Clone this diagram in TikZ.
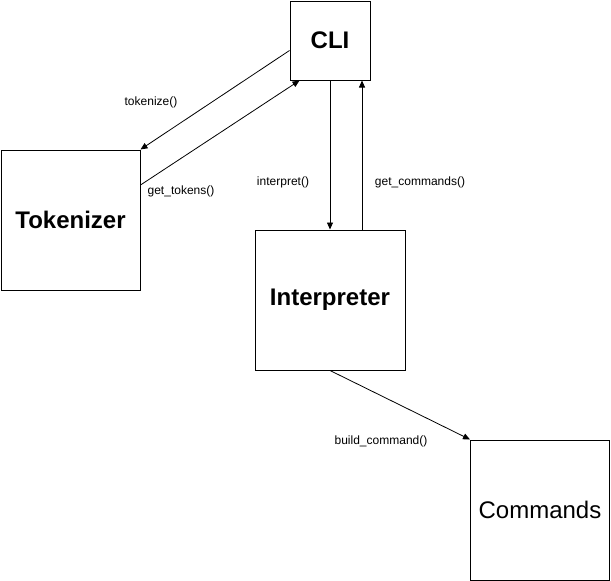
\documentclass[tikz,border=0pt]{standalone}
\usepackage{fontspec}
\setmainfont{Liberation Sans}
\usetikzlibrary{arrows.meta,calc}

\begin{document}
\begin{tikzpicture}[x=1pt,y=-1pt,
    box/.style={draw,line width=1pt,inner sep=0pt,font=\fontsize{24}{27}\selectfont},
    call/.style={-{Triangle[length=7pt,width=6pt]},line width=0.8pt},
    lbl/.style={font=\fontsize{12}{14}\selectfont}]
    \useasboundingbox (0,0) rectangle (611,581);
    \node[box,minimum width=80pt,minimum height=79pt] (cli) at (330,40.5) {\textbf{CLI}};
    \node[box,minimum width=139pt,minimum height=140pt] (tok) at (70.5,220) {\textbf{Tokenizer}};
    \node[box,minimum width=150pt,minimum height=140pt] (interp) at (330,300) {\textbf{Interpreter}};
    \node[box,minimum width=139pt,minimum height=140pt] (cmd) at (540,510) {Commands};
    \draw[call] ($(cli.west)+(0,10)$) -- (tok.north east);
    \draw[call] ($(tok.east)+(0,-35)$) -- ($(cli.south west)+(10,0)$);
    \draw[call] (cli.south) -- (interp.north);
    \draw[call] ($(interp.north)+(32,0)$) -- ($(cli.south)+(32,0)$);
    \draw[call] (interp.south) -- (cmd.north west);
    \node[lbl] (l1) at (151,102.5) {tokenize()};
    \node[lbl] (l2) at (181,191.5) {get\_tokens()};
    \node[lbl] (l3) at (283,182.5) {interpret()};
    \node[lbl] (l4) at (420,182.5) {get\_commands()};
    \node[lbl] (l5) at (381,441.5) {build\_command()};
\end{tikzpicture}
\end{document}
